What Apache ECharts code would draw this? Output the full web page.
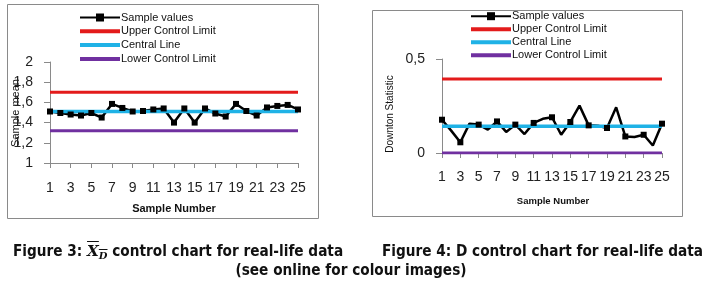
<!DOCTYPE html>
<html>
<head>
<meta charset="utf-8">
<script src="https://cdn.jsdelivr.net/npm/echarts@6/dist/echarts.min.js"></script>
<style>
    html, body { margin: 0; padding: 0; background: #fff; }
    #wrap { position: relative; width: 706px; height: 283px; overflow: hidden; }
    #chart { position: absolute; left: 0; top: 0; width: 706px; height: 283px; }
    .cap { position: absolute; font-family: 'DejaVu Sans Condensed', 'DejaVu Sans', sans-serif; font-weight: bold; font-size: 15.2px; color: #111; white-space: nowrap; line-height: 18px; }
    .xd { font-family: 'DejaVu Serif', serif; font-style: italic; text-decoration: overline; }
    .xd sub { font-size: 10px; vertical-align: -3px; }
</style>
</head>
<body>
<div id="wrap">
    <div id="chart"></div>
    <div class="cap" style="left:13px; top:242px;">Figure 3: <span class="xd">X<sub>D</sub></span> control chart for real-life data</div>
    <div class="cap" style="left:382px; top:242px;">Figure 4: D control chart for real-life data</div>
    <div class="cap" style="left:0; width:702px; text-align:center; top:261px;">(see online for colour images)</div>
</div>
<script>
// sample numbers on the x axis
const samples = ['1', '2', '3', '4', '5', '6', '7', '8', '9', '10', '11', '12', '13', '14', '15', '16', '17', '18', '19', '20', '21', '22', '23', '24', '25']
const legendNames = ['Sample values', 'Upper Control Limit', 'Central Line', 'Lower Control Limit']

// figure 3 : sample means
const meanValues = [1.51, 1.495, 1.48, 1.47, 1.495, 1.45, 1.585, 1.545, 1.51, 1.515, 1.53, 1.54, 1.40, 1.54, 1.40, 1.54, 1.49, 1.46, 1.585, 1.515, 1.47, 1.55, 1.565, 1.575, 1.53]
const meanUCL = 1.70
const meanCL = 1.51
const meanLCL = 1.32

// figure 4 : downton statistic
const dValues = [0.177, 0.119, 0.057, 0.156, 0.151, 0.124, 0.168, 0.112, 0.151, 0.101, 0.16, 0.182, 0.19, 0.097, 0.165, 0.252, 0.147, 0.145, 0.133, 0.243, 0.088, 0.085, 0.097, 0.04, 0.156]
const dUCL = 0.394
const dCL = 0.142
const dLCL = 0

const colors = { sample: '#000000', ucl: '#e31b1b', cl: '#1fb2e6', lcl: '#7030a0' }
const axisGray = '#8a8a8a'
const fontFam = "'Liberation Sans', Arial, sans-serif"
// thick bar centred in the legend icon box (the two lone moves keep the box 40x10)
const barIcon = 'path://M0,0 M0,3 L40,3 L40,7 L0,7 Z M40,10'

const flat = v => [[samples[0], v], [samples[samples.length - 1], v]]

const makeSeries = (idx, values, ucl, cl, lcl) => [
    {
        name: legendNames[0], type: 'line', xAxisIndex: idx, yAxisIndex: idx,
        data: values, symbol: 'rect', symbolSize: 6,
        lineStyle: { color: colors.sample, width: 2.5 },
        itemStyle: { color: colors.sample }
    },
    {
        name: legendNames[1], type: 'line', xAxisIndex: idx, yAxisIndex: idx,
        data: flat(ucl), symbol: 'none',
        lineStyle: { color: colors.ucl, width: 3 }, itemStyle: { color: colors.ucl }
    },
    {
        name: legendNames[2], type: 'line', xAxisIndex: idx, yAxisIndex: idx,
        data: flat(cl), symbol: 'none',
        lineStyle: { color: colors.cl, width: 3.5 }, itemStyle: { color: colors.cl }
    },
    {
        name: legendNames[3], type: 'line', xAxisIndex: idx, yAxisIndex: idx,
        data: flat(lcl), symbol: 'none',
        lineStyle: { color: colors.lcl, width: 3 }, itemStyle: { color: colors.lcl }
    }
]

const xAxisCfg = (idx, margin) => ({
    type: 'category', gridIndex: idx, data: samples, boundaryGap: false,
    axisLine: { lineStyle: { color: axisGray } },
    axisTick: { show: true, interval: 1, length: 5, lineStyle: { color: axisGray } },
    axisLabel: { interval: 1, margin: margin, fontSize: 14, color: '#222', fontFamily: fontFam, hideOverlap: false },
    splitLine: { show: false }
})

const yAxisCfg = (idx, min, max, step) => ({
    type: 'value', gridIndex: idx, min: min, max: max, interval: step,
    axisLine: { show: true, lineStyle: { color: axisGray } },
    axisTick: { show: true, length: 6, lineStyle: { color: axisGray } },
    axisLabel: {
        margin: 17, fontSize: 14, color: '#222', fontFamily: fontFam,
        formatter: v => String(Math.round(v * 10) / 10).replace('.', ',')
    },
    splitLine: { show: false }
})

const legendCfg = (left, top, gap) => ({
    orient: 'vertical', left: left, top: top, padding: 0,
    data: [
        { name: legendNames[0] },
        { name: legendNames[1], icon: barIcon },
        { name: legendNames[2], icon: barIcon },
        { name: legendNames[3], icon: barIcon }
    ],
    itemWidth: 40, itemHeight: 10, itemGap: gap,
    textStyle: { fontSize: 11, fontFamily: fontFam, color: '#111', padding: [0, 0, 0, -4] },
    selectedMode: false
})

const myChart = echarts.init(document.getElementById('chart'), null, { renderer: 'canvas' })
myChart.setOption({
    animation: false,
    grid: [
        { left: 50, top: 62, width: 248, height: 101 },
        { left: 442, top: 59, width: 220, height: 94 }
    ],
    xAxis: [xAxisCfg(0, 18), xAxisCfg(1, 17)],
    yAxis: [yAxisCfg(0, 1, 2, 0.2), yAxisCfg(1, 0, 0.5, 0.5)],
    legend: [legendCfg(79, 12, 2.8), legendCfg(470, 10.7, 2)],
    series: [
        ...makeSeries(0, meanValues, meanUCL, meanCL, meanLCL),
        ...makeSeries(1, dValues, dUCL, dCL, dLCL)
    ],
    graphic: [
        { type: 'rect', shape: { x: 7.5, y: 4.5, width: 311, height: 214 }, style: { fill: 'none', stroke: axisGray, lineWidth: 1 }, silent: true },
        { type: 'rect', shape: { x: 372.5, y: 10.5, width: 310, height: 206 }, style: { fill: 'none', stroke: axisGray, lineWidth: 1 }, silent: true },
        { type: 'text', x: 174, y: 209, style: { text: 'Sample Number', font: "bold 11px 'Liberation Sans', Arial", fill: '#111', align: 'center', verticalAlign: 'middle' } },
        { type: 'text', x: 16, y: 113, rotation: Math.PI / 2, style: { text: 'Sample mean', font: "11px 'Liberation Sans', Arial", fill: '#111', align: 'center', verticalAlign: 'middle' } },
        { type: 'text', x: 553, y: 201, style: { text: 'Sample Number', font: "bold 9.5px 'Liberation Sans', Arial", fill: '#111', align: 'center', verticalAlign: 'middle' } },
        { type: 'text', x: 390, y: 114, rotation: Math.PI / 2, style: { text: 'Downton Statistic', font: "10px 'Liberation Sans', Arial", fill: '#111', align: 'center', verticalAlign: 'middle' } }
    ]
})
</script>
</body>
</html>
